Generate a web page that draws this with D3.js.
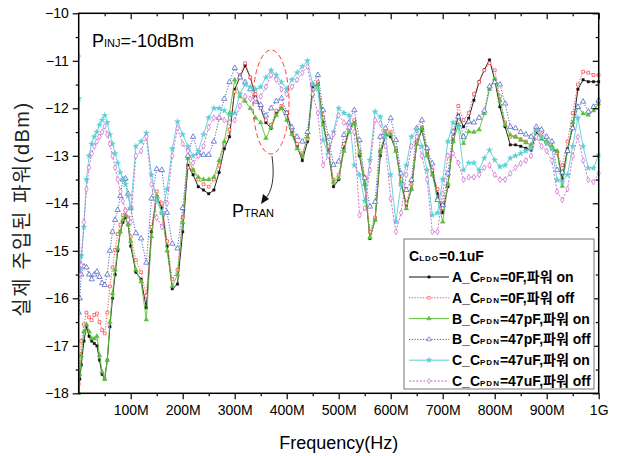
<!DOCTYPE html>
<html><head><meta charset="utf-8">
<script src="https://cdn.jsdelivr.net/npm/d3@7"></script>
<style>
html,body{margin:0;padding:0;background:#fff;}
text{font-family:"Liberation Sans",Arial,"Noto Sans CJK KR",sans-serif;}
</style></head>
<body>
<svg id="chart" width="619" height="456"></svg>
<script>
// ---------- data ----------
const freqMHz = [0,2,5,10,15,20,25,30,35,40,45,50,55,60,65,70,75,80,85,90,95,
  100,110,120,130,140,150,160,170,180,190,200,210,220,230,240,250,260,270,280,290,
  300,310,320,330,340,350,360,370,380,390,400,410,420,430,440,450,460,470,480,490,
  500,510,520,530,540,550,560,570,580,590,600,610,620,630,640,650,660,670,680,690,
  700,710,720,730,740,750,760,770,780,790,800,810,820,830,840,850,860,870,880,890,
  900,910,920,930,940,950,960,970,980,990,1000];

const A_on = [-18.0,-17.7,-17.4,-16.9,-16.6,-16.8,-16.9,-16.95,-17.0,-17.3,-17.6,-17.7,-17.3,-16.6,-16.0,-15.5,-15.0,-14.6,-14.4,-14.3,-14.45,
  -14.9,-15.45,-15.6,-16.2,-14.6,-13.85,-14.1,-14.9,-15.8,-15.7,
  -14.6,-13.2,-13.4,-13.65,-13.72,-13.8,-13.72,-13.35,-12.85,-12.6,
  -11.6,-11.35,-11.1,-11.35,-11.75,-12.0,-12.3,-12.42,-12.1,-11.98,
  -12.1,-12.5,-12.8,-13.1,-12.7,-11.55,-11.5,-12.3,-12.9,-13.65,
  -13.5,-12.85,-12.45,-12.28,-13.0,-13.6,-14.74,-14.35,-13.0,-12.55,
  -12.6,-12.88,-13.55,-14.05,-13.7,-12.75,-12.46,-12.95,-13.35,-13.8,
  -14.2,-13.65,-12.67,-12.14,-12.39,-12.21,-11.83,-11.44,-11.19,-10.98,
  -11.4,-11.97,-12.39,-12.77,-12.77,-12.8,-12.84,-12.88,-12.5,-12.63,
  -12.74,-12.85,-12.91,-13.5,-12.85,-12.4,-11.6,-11.4,-11.44,-11.44,-11.44];

const A_off = [-17.8,-17.4,-16.9,-16.55,-16.3,-16.4,-16.46,-16.35,-16.32,-16.5,-16.67,-16.74,-16.3,-15.75,-15.35,-14.98,-14.65,-14.45,-14.25,-14.15,-14.3,
  -14.7,-15.2,-15.45,-15.95,-14.5,-13.75,-14.0,-14.8,-15.6,-15.4,
  -14.3,-13.25,-13.3,-13.5,-13.6,-13.65,-13.5,-13.2,-12.75,-12.45,
  -11.65,-11.3,-11.05,-11.35,-11.7,-12.0,-12.25,-12.35,-12.05,-11.95,
  -12.1,-12.45,-12.75,-12.95,-12.65,-11.6,-11.45,-12.2,-12.8,-13.5,
  -13.4,-12.75,-12.45,-12.25,-12.9,-13.45,-14.6,-14.3,-12.9,-12.5,
  -12.5,-12.85,-13.5,-14.0,-13.6,-12.7,-12.4,-12.9,-13.3,-13.7,
  -14.1,-13.6,-12.6,-11.95,-12.25,-12.1,-11.7,-11.45,-11.2,-11.05,
  -11.2,-11.75,-12.3,-12.6,-12.6,-12.65,-12.7,-12.8,-12.45,-12.55,
  -12.7,-12.85,-12.95,-13.2,-12.7,-12.1,-11.5,-11.23,-11.25,-11.3,-11.3];

const B_on = [-18.0,-17.6,-17.2,-16.7,-16.55,-16.7,-16.85,-16.85,-16.8,-17.2,-17.55,-17.7,-17.3,-16.5,-15.9,-15.4,-14.95,-14.6,-14.35,-14.25,-14.45,
  -14.8,-15.4,-15.65,-16.45,-14.7,-13.85,-14.2,-15.0,-15.75,-15.5,
  -14.4,-13.05,-13.3,-13.45,-13.5,-13.5,-13.45,-13.1,-12.7,-12.1,
  -11.4,-11.75,-11.85,-12.0,-12.2,-12.3,-12.63,-12.4,-12.15,-12.0,
  -12.25,-12.55,-12.85,-13.0,-12.6,-11.7,-11.5,-12.35,-12.95,-13.55,
  -13.47,-12.9,-12.5,-12.32,-12.95,-13.6,-14.72,-14.35,-12.9,-12.53,
  -12.55,-12.9,-13.6,-14.11,-13.7,-12.75,-12.42,-13.0,-13.4,-13.9,
  -14.39,-13.6,-12.7,-12.35,-12.74,-12.49,-12.5,-12.45,-12.11,-11.6,
  -11.38,-11.83,-12.35,-12.56,-12.6,-12.67,-12.72,-12.77,-12.46,-12.65,
  -12.7,-12.8,-12.9,-13.64,-12.9,-12.3,-11.97,-12.11,-12.14,-12.05,-11.9];

const B_off = [-16.3,-16.0,-15.5,-15.33,-15.35,-15.5,-15.6,-15.5,-15.44,-15.55,-15.68,-15.72,-15.5,-15.0,-14.6,-14.35,-14.14,-13.85,-13.5,-13.48,-13.8,
  -14.1,-14.63,-14.74,-15.25,-13.9,-13.28,-13.3,-14.2,-14.85,-14.95,
  -14.1,-13.0,-12.6,-12.95,-12.98,-12.98,-12.7,-12.2,-11.8,-11.45,
  -11.15,-11.35,-11.45,-11.6,-11.86,-11.93,-12.15,-12.0,-11.85,-11.79,
  -12.1,-12.4,-12.6,-12.7,-12.5,-11.5,-11.3,-12.04,-12.6,-13.19,
  -13.12,-12.56,-12.3,-12.04,-12.67,-13.47,-14.07,-13.97,-12.6,-12.42,
  -12.21,-12.67,-13.37,-13.72,-13.51,-12.42,-12.25,-12.84,-13.16,-13.93,
  -14.04,-13.37,-12.49,-12.18,-12.6,-12.28,-12.3,-12.2,-12.05,-11.54,
  -11.45,-11.5,-11.9,-12.39,-12.42,-12.5,-12.55,-12.6,-12.39,-12.45,
  -12.6,-12.7,-13.3,-13.35,-12.9,-12.42,-11.97,-11.86,-12.07,-11.97,-11.83];

const C_on = [-11.8,-15.4,-15.1,-14.5,-13.5,-13.0,-12.75,-12.6,-12.5,-12.35,-12.25,-12.15,-12.3,-12.55,-12.75,-12.95,-13.15,-13.35,-13.5,-13.6,-13.85,
  -14.1,-12.8,-12.7,-12.52,-13.4,-13.95,-14.2,-13.7,-12.85,-12.28,
  -12.55,-12.8,-13.0,-12.9,-12.55,-12.2,-12.0,-12.0,-12.05,-12.15,
  -12.1,-11.7,-11.5,-11.55,-11.6,-11.55,-11.35,-11.2,-11.3,-11.45,
  -11.6,-11.4,-11.25,-11.12,-11.0,-11.5,-11.6,-12.67,-12.98,-12.5,
  -12.0,-12.1,-12.15,-13.2,-13.4,-13.95,-13.09,-12.07,-12.18,-12.6,
  -13.4,-14.39,-13.6,-13.2,-12.6,-12.45,-12.8,-13.3,-14.25,-14.2,
  -13.5,-12.7,-12.3,-12.4,-13.3,-13.15,-13.15,-13.3,-13.05,-12.88,
  -13.09,-13.23,-13.2,-13.05,-13.0,-12.95,-12.9,-12.85,-12.46,-12.6,
  -12.75,-12.85,-13.51,-13.55,-13.4,-12.8,-12.2,-12.8,-13.26,-13.26,-12.98];

const C_off = [-10.9,-15.5,-15.3,-14.4,-13.7,-13.25,-12.95,-12.8,-12.7,-12.6,-12.5,-12.38,-12.55,-12.75,-13.0,-13.25,-13.5,-13.75,-13.95,-14.15,-14.35,
  -14.4,-13.0,-12.9,-12.6,-13.6,-14.3,-14.5,-14.0,-13.0,-12.42,
  -12.75,-12.9,-13.15,-13.0,-12.8,-12.4,-12.2,-12.2,-12.25,-12.3,
  -12.25,-11.95,-11.75,-11.8,-11.8,-11.75,-11.55,-11.3,-11.4,-11.6,
  -11.7,-11.55,-11.4,-11.25,-11.12,-11.7,-12.1,-13.2,-13.0,-12.55,
  -12.15,-12.3,-12.4,-12.5,-14.25,-14.1,-13.3,-12.25,-12.32,-12.8,
  -13.9,-14.6,-14.2,-13.4,-12.8,-12.6,-13.0,-13.5,-14.6,-14.6,
  -13.8,-13.0,-12.95,-13.15,-13.5,-13.45,-13.45,-13.4,-13.25,-13.2,
  -13.4,-13.5,-13.5,-13.37,-13.25,-13.16,-13.1,-13.0,-12.6,-12.8,
  -12.9,-13.1,-13.75,-13.93,-13.7,-13.0,-12.6,-13.1,-13.51,-13.55,-13.37];

const xTickValues = [100,200,300,400,500,600,700,800,900,1000];
const xTickLabels = ["100M","200M","300M","400M","500M","600M","700M","800M","900M","1G"];
const yTickValues = [-18,-17,-16,-15,-14,-13,-12,-11,-10];

const seriesNames = [
  {pre:"A_C", sub:"PDN", post:"=0F,파워 on"},
  {pre:"A_C", sub:"PDN", post:"=0F,파워 off"},
  {pre:"B_C", sub:"PDN", post:"=47pF,파워 on"},
  {pre:"B_C", sub:"PDN", post:"=47pF,파워 off"},
  {pre:"C_C", sub:"PDN", post:"=47uF,파워 on"},
  {pre:"C_C", sub:"PDN", post:"=47uF,파워 off"}
];
const seriesValues = [A_on, A_off, B_on, B_off, C_on, C_off];

// ---------- style ----------
const styles = [
  {color:"#111111", dash:null, sym:d3.symbolSquare, size:6, fill:true, lw:0.9},
  {color:"#ff3a3a", dash:"1.2,1.6", sym:d3.symbolSquare, size:8, fill:false, lw:0.9},
  {color:"#5cbf3a", dash:null, sym:d3.symbolTriangle, size:10, fill:true, lw:0.9},
  {color:"#3a55c0", dash:"1.2,1.6", sym:d3.symbolTriangle, size:12, fill:false, lw:0.9},
  {color:"#5ccfd6", dash:null, sym:d3.symbolStar, size:11, fill:true, lw:0.9},
  {color:"#cc5fcc", dash:"2,1.6", sym:d3.symbolDiamond, size:10, fill:false, lw:0.9}
];

const svg = d3.select("#chart");
const PL = 78.7, PR = 598.7, PT = 13.3, PB = 393.3;
const x = d3.scaleLinear().domain([0,1000]).range([PL,PR]);
const y = d3.scaleLinear().domain([-18,-10]).range([PB,PT]);

svg.append("defs").append("clipPath").attr("id","clip")
  .append("rect").attr("x",PL).attr("y",PT-2).attr("width",PR-PL+2).attr("height",PB-PT+4);

// series
const plotG = svg.append("g").attr("clip-path","url(#clip)");
seriesValues.forEach((vals,i)=>{
  const st = styles[i];
  const pts = freqMHz.map((f,j)=>[f, vals[j]]);
  const line = d3.line().x(d=>x(d[0])).y(d=>y(d[1]));
  plotG.append("path").attr("d", line(pts)).attr("fill","none")
    .attr("stroke", st.color).attr("stroke-width", st.lw)
    .attr("stroke-dasharray", st.dash);
  const sym = d3.symbol().type(st.sym).size(st.size);
  plotG.selectAll(null).data(pts).enter().append("path")
    .attr("d", sym)
    .attr("transform", d=>`translate(${x(d[0])},${y(d[1])})`)
    .attr("fill", st.fill ? st.color : "#fff")
    .attr("stroke", st.color).attr("stroke-width", st.fill ? 0.4 : 0.7);
});

// axes
const axG = svg.append("g");
const minorX = d3.range(50,1000,100);
const minorY = d3.range(-17.5,-10,1);
axG.append("g").attr("transform",`translate(0,${PB})`)
  .call(d3.axisBottom(x).tickValues(xTickValues).tickFormat((d,i)=>xTickLabels[i]).tickSize(6).tickPadding(6));
axG.append("g").attr("transform",`translate(0,${PB})`)
  .call(d3.axisBottom(x).tickValues(minorX).tickFormat("").tickSize(3));
axG.append("g").attr("transform",`translate(0,${PT})`)
  .call(d3.axisBottom(x).tickValues(xTickValues).tickFormat("").tickSize(6));
axG.append("g").attr("transform",`translate(0,${PT})`)
  .call(d3.axisBottom(x).tickValues(minorX).tickFormat("").tickSize(3));
axG.append("g").attr("transform",`translate(${PL},0)`)
  .call(d3.axisLeft(y).tickValues(yTickValues).tickFormat(d3.format("d")).tickSize(6).tickPadding(4));
axG.append("g").attr("transform",`translate(${PL},0)`)
  .call(d3.axisLeft(y).tickValues(minorY).tickFormat("").tickSize(3));
axG.append("g").attr("transform",`translate(${PR},0)`)
  .call(d3.axisLeft(y).tickValues(yTickValues).tickFormat("").tickSize(6));
axG.append("g").attr("transform",`translate(${PR},0)`)
  .call(d3.axisLeft(y).tickValues(minorY).tickFormat("").tickSize(3));
axG.selectAll(".domain").remove();
axG.selectAll(".tick line").attr("stroke","#000").attr("stroke-width",1.2);
axG.selectAll(".tick text").attr("font-size",14).attr("fill","#000")
  .style("font-family",'"Liberation Sans",Arial,sans-serif');

svg.append("rect").attr("x",PL).attr("y",PT).attr("width",PR-PL).attr("height",PB-PT)
  .attr("fill","none").attr("stroke","#000").attr("stroke-width",1.5);

// axis titles
svg.append("text").attr("x",(PL+PR)/2).attr("y",449).attr("text-anchor","middle")
  .attr("font-size",18).text("Frequency(Hz)");
svg.append("text").attr("transform","translate(29,209) rotate(-90)").attr("text-anchor","middle")
  .attr("font-size",20).attr("letter-spacing",1.5).attr("fill","#222").text("실제 주입된 파워(dBm)");

// annotations
const pinj = svg.append("text").attr("x",92).attr("y",47).attr("font-size",18);
pinj.append("tspan").text("P");
pinj.append("tspan").attr("font-size",11).text("INJ");
pinj.append("tspan").text("=-10dBm");

svg.append("ellipse").attr("cx",271).attr("cy",102).attr("rx",18).attr("ry",52)
  .attr("fill","none").attr("stroke","#ff3a3a").attr("stroke-width",1).attr("stroke-dasharray","5,3");
svg.append("path").attr("d","M272,156 C275,178 272,192 265,199").attr("fill","none")
  .attr("stroke","#333").attr("stroke-width",1);
svg.append("path").attr("d","M261,204 L263,194 L269,199 Z").attr("fill","#111");
const ptran = svg.append("text").attr("x",232).attr("y",217).attr("font-size",18);
ptran.append("tspan").text("P");
ptran.append("tspan").attr("font-size",11).text("TRAN");

// legend
const lg = svg.append("g");
lg.append("rect").attr("x",404).attr("y",239).attr("width",190).attr("height",150)
  .attr("fill","#fff").attr("stroke","#777").attr("stroke-width",1);
const lt = lg.append("text").attr("x",409).attr("y",261).attr("font-size",14).attr("font-weight","bold");
lt.append("tspan").text("C");
lt.append("tspan").attr("font-size",8).attr("letter-spacing",1).text("LDO");
lt.append("tspan").text("=0.1uF");
seriesNames.forEach((nm,i)=>{
  const st = styles[i];
  const yy = 277 + i*20.8;
  lg.append("line").attr("x1",409).attr("x2",449).attr("y1",yy).attr("y2",yy)
    .attr("stroke", st.color).attr("stroke-width",1).attr("stroke-dasharray", st.dash);
  lg.append("path").attr("d", d3.symbol().type(st.sym).size(st.size*0.8))
    .attr("transform",`translate(429,${yy})`)
    .attr("fill", st.fill ? st.color : "#fff").attr("stroke", st.color).attr("stroke-width",0.6);
  const t = lg.append("text").attr("x",452).attr("y",yy+5).attr("font-size",14).attr("font-weight","bold");
  t.append("tspan").text(nm.pre);
  t.append("tspan").attr("font-size",8).attr("letter-spacing",1).text(nm.sub);
  t.append("tspan").text(nm.post);
});
</script>
</body></html>
